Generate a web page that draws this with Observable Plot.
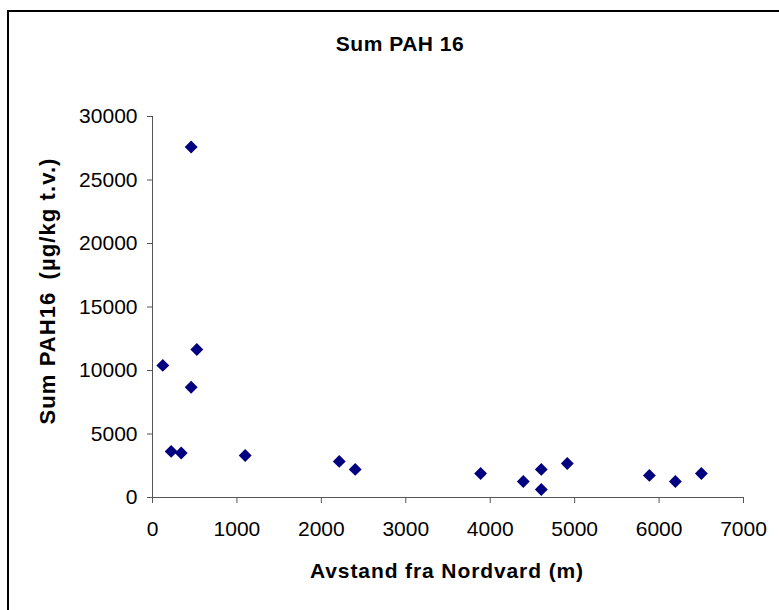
<!DOCTYPE html>
<html><head><meta charset="utf-8">
<script src="https://cdn.jsdelivr.net/npm/d3@7"></script>
<script src="https://cdn.jsdelivr.net/npm/@observablehq/plot@0.6"></script>
<style>
body{margin:0;background:#fff}
#chart{position:relative;width:779px;height:610px;overflow:hidden}
</style>
</head><body><div id="chart"></div>
<script>
const distance = [122, 221, 340, 458, 525, 458, 1098, 2212, 2401, 3886, 4392, 4605, 4605, 4913, 5885, 6193, 6501];
const sumPAH16 = [10400, 3630, 3500, 27600, 11650, 8680, 3310, 2840, 2210, 1890, 1260, 2210, 630, 2680, 1740, 1260, 1890];
const xTicks = [0, 1000, 2000, 3000, 4000, 5000, 6000, 7000];
const yTicks = [0, 5000, 10000, 15000, 20000, 25000, 30000];
const titleText = "Sum PAH 16";
const xLabel = "Avstand fra Nordvard (m)";
const yLabel = "Sum PAH16\u2002(µg/kg t.v.)";

const data = distance.map((d, i) => ({x: d, y: sumPAH16[i]}));
const font = "'Liberation Sans', Arial, sans-serif";

const plot = Plot.plot({
  width: 779, height: 610,
  marginLeft: 152, marginRight: 36, marginTop: 116, marginBottom: 113,
  style: {fontFamily: font, fontSize: "21px", color: "#000", background: "#fff", overflow: "visible"},
  x: {domain: [0, 7000]},
  y: {domain: [0, 30000]},
  marks: [
    Plot.axisX({ticks: xTicks, tickSize: 6, tickPadding: 18, tickFormat: d => String(d), stroke: "#555", fill: "#000", fontSize: 21, label: null}),
    Plot.axisY({ticks: yTicks, tickSize: 5, tickPadding: 10, tickFormat: d => String(d), stroke: "#555", fill: "#000", fontSize: 21, label: null}),
    Plot.ruleX([0], {stroke: "#555"}),
    Plot.ruleY([0], {stroke: "#555"}),
    Plot.dot(data, {x: "x", y: "y", symbol: "diamond2", r: 5.8, fill: "#000080", stroke: "none"}),
    Plot.text([titleText], {text: d => d, frameAnchor: "top", textAnchor: "middle", lineAnchor: "middle", dx: -48, dy: -72, fontSize: 21, fontWeight: "bold", fill: "#000"}),
    Plot.text([xLabel], {text: d => d, frameAnchor: "bottom", textAnchor: "middle", lineAnchor: "middle", dx: -1, dy: 74, fontSize: 21, fontWeight: "bold", fill: "#000"}),
    Plot.text([yLabel], {text: d => d, frameAnchor: "left", textAnchor: "middle", lineAnchor: "middle", rotate: -90, dx: -105, dy: -16, fontSize: 22, fontWeight: "bold", fill: "#000"})
  ]
});

const svg = d3.select(plot);
const spacing = new Map([[titleText, "0.5px"], [xLabel, "0.9px"], [yLabel, "1.1px"]]);
svg.selectAll("text").each(function() {
  const s = spacing.get(this.textContent);
  if (s) this.setAttribute("letter-spacing", s);
});

svg.append("path")
  .attr("d", "M8,620V11H790")
  .attr("fill", "none")
  .attr("stroke", "#000")
  .attr("stroke-width", 2);

document.getElementById("chart").appendChild(plot);
</script>
</body></html>
